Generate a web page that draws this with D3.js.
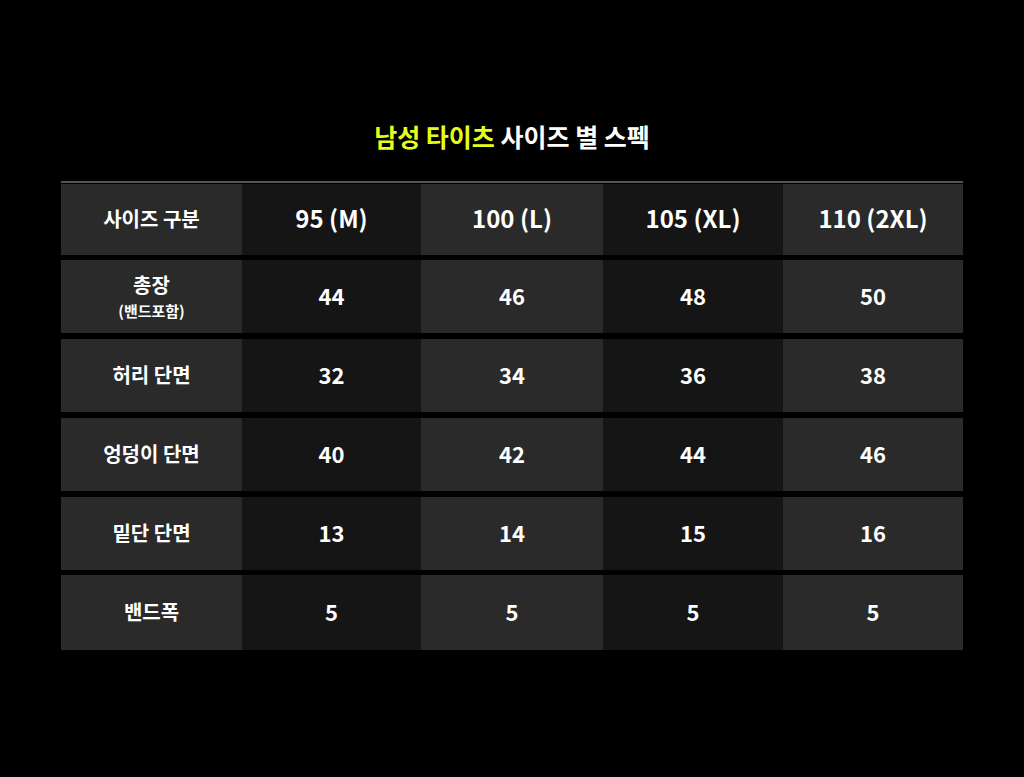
<!DOCTYPE html>
<html><head><meta charset="utf-8">
<script src="https://cdn.jsdelivr.net/npm/d3@7"></script>
<style>body{margin:0;background:#000}</style>
</head><body><div id="wrapper"></div>
<script>
const sizes = ["95 (M)", "100 (L)", "105 (XL)", "110 (2XL)"];
const rowLabels = [["총장", "(밴드포함)"], ["허리 단면"], ["엉덩이 단면"], ["밑단 단면"], ["밴드폭"]];
const values = [
  [44, 46, 48, 50],
  [32, 34, 36, 38],
  [40, 42, 44, 46],
  [13, 14, 15, 16],
  [5, 5, 5, 5],
];

const font = "Pretendard, 'Noto Sans CJK KR', sans-serif";
const svg = d3.select("#wrapper").append("svg").attr("width", 1024).attr("height", 777);
svg.append("rect").attr("width", 1024).attr("height", 777).attr("fill", "#000");

const title = svg.append("text").attr("x", 512).attr("y", 147).attr("text-anchor", "middle")
  .attr("font-family", font).attr("font-weight", 700).attr("font-size", 25);
title.append("tspan").attr("fill", "#e4ff1a").text("남성 타이츠 ");
title.append("tspan").attr("fill", "#fff").text("사이즈 별 스펙");

const colEdges = [61, 242, 421, 603, 783, 963];
const rowTops = [184, 260, 339, 418, 497, 575];
const rowBottoms = [255, 333, 412, 491, 570, 650];

svg.append("rect").attr("x", 61).attr("y", 181).attr("width", 902).attr("height", 2).attr("fill", "#555");

const colFill = c => (c === 0 || c % 2 === 0) ? "#2a2a2a" : "#151515";

const rows = [["사이즈 구분"], ...rowLabels];
rows.forEach((lab, r) => {
  for (let c = 0; c < 5; c++) {
    const x0 = colEdges[c], x1 = colEdges[c + 1], y0 = rowTops[r], y1 = rowBottoms[r];
    svg.append("rect").attr("x", x0).attr("y", y0).attr("width", x1 - x0).attr("height", y1 - y0)
      .attr("fill", colFill(c));
    const cx = (x0 + x1) / 2, cy = (y0 + y1) / 2;
    const t = svg.append("text").attr("x", cx).attr("text-anchor", "middle")
      .attr("font-family", font).attr("fill", "#fff");
    if (c === 0) {
      if (lab.length === 2) {
        t.attr("y", cy - 4).attr("font-size", 20).attr("font-weight", 600).text(lab[0]);
        svg.append("text").attr("x", cx).attr("y", cy + 20).attr("text-anchor", "middle")
          .attr("font-family", font).attr("fill", "#fff").attr("font-size", 15).attr("font-weight", 600).text(lab[1]);
      } else {
        t.attr("y", cy + 7).attr("font-size", 20).attr("font-weight", 600).text(lab[0]);
      }
    } else if (r === 0) {
      t.attr("y", cy + 8).attr("font-size", 24).attr("font-weight", 700).text(sizes[c - 1]);
    } else {
      t.attr("y", cy + 8).attr("font-size", 22).attr("font-weight", 600).text(values[r - 1][c - 1]);
    }
  }
});
</script></body></html>
